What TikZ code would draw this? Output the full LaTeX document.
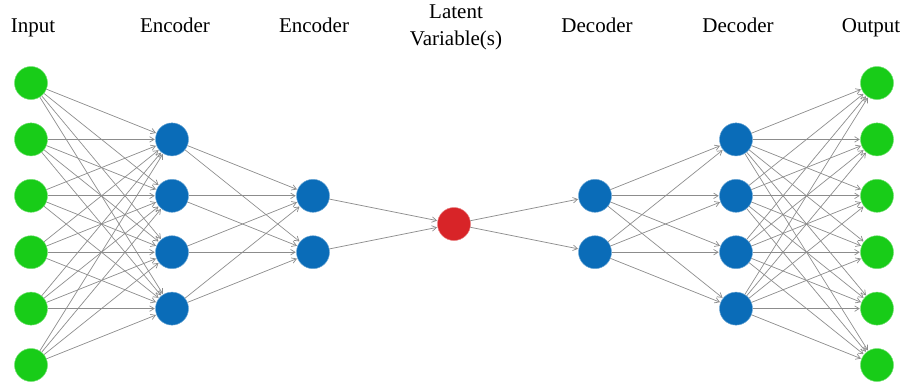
\documentclass[tikz,border=0pt]{standalone}
\usepackage{fontspec}
\setmainfont{Liberation Serif}
\usetikzlibrary{arrows.meta}
\definecolor{ingreen}{RGB}{24,204,24}
\definecolor{hidblue}{RGB}{10,108,184}
\definecolor{latred}{RGB}{216,36,40}
\definecolor{wire}{RGB}{140,140,140}
\tikzset{
  unit/.style={circle, minimum size=33pt, inner sep=0pt},
  inunit/.style={unit, fill=ingreen, draw=ingreen!60!white, line width=0.5pt},
  hidunit/.style={unit, fill=hidblue, draw=hidblue!60!white, line width=0.5pt},
  latunit/.style={unit, fill=latred, draw=latred!60!white, line width=0.5pt},
  conn/.style={draw=wire, line width=0.7pt, -{Straight Barb[length=4.5pt,width=5.5pt]}, shorten >=0.5pt},
  layerlabel/.style={anchor=base, font=\fontsize{21}{26}\selectfont, inner sep=0pt, align=center}
}
\begin{document}
\begin{tikzpicture}[x=1pt, y=-1pt]
\useasboundingbox (0,0) rectangle (912,383);

% layer titles
\node[layerlabel] (t0) at (33,32) {Input};
\node[layerlabel] (t1) at (175,32) {Encoder};
\node[layerlabel] (t2) at (314,32) {Encoder};
\node[layerlabel] (t3a) at (456,18) {Latent};
\node[layerlabel] (t3b) at (456,45) {Variable(s)};
\node[layerlabel] (t4) at (597,32) {Decoder};
\node[layerlabel] (t5) at (738,32) {Decoder};
\node[layerlabel] (t6) at (871,32) {Output};

% units
\foreach \r in {0,...,5} {
  \node[inunit] (n0-\r) at (31,{83+56.4*\r}) {};
  \node[inunit] (n6-\r) at (877,{83+56.4*\r}) {};
}
\foreach \r in {1,...,4} {
  \node[hidunit] (n1-\r) at (172,{83+56.4*\r}) {};
  \node[hidunit] (n5-\r) at (736,{83+56.4*\r}) {};
}
\foreach \r in {2,3} {
  \node[hidunit] (n2-\r) at (313,{83+56.4*\r}) {};
  \node[hidunit] (n4-\r) at (595,{83+56.4*\r}) {};
}
\node[latunit] (z) at (454,224) {};

% connections
\foreach \a in {0,...,5} \foreach \b in {1,...,4}
  \draw[conn] (n0-\a) -- (n1-\b);
\foreach \a in {1,...,4} \foreach \b in {2,3}
  \draw[conn] (n1-\a) -- (n2-\b);
\foreach \a in {2,3}
  \draw[conn] (n2-\a) -- (z);
\foreach \b in {2,3}
  \draw[conn] (z) -- (n4-\b);
\foreach \a in {2,3} \foreach \b in {1,...,4}
  \draw[conn] (n4-\a) -- (n5-\b);
\foreach \a in {1,...,4} \foreach \b in {0,...,5}
  \draw[conn] (n5-\a) -- (n6-\b);
\end{tikzpicture}
\end{document}
